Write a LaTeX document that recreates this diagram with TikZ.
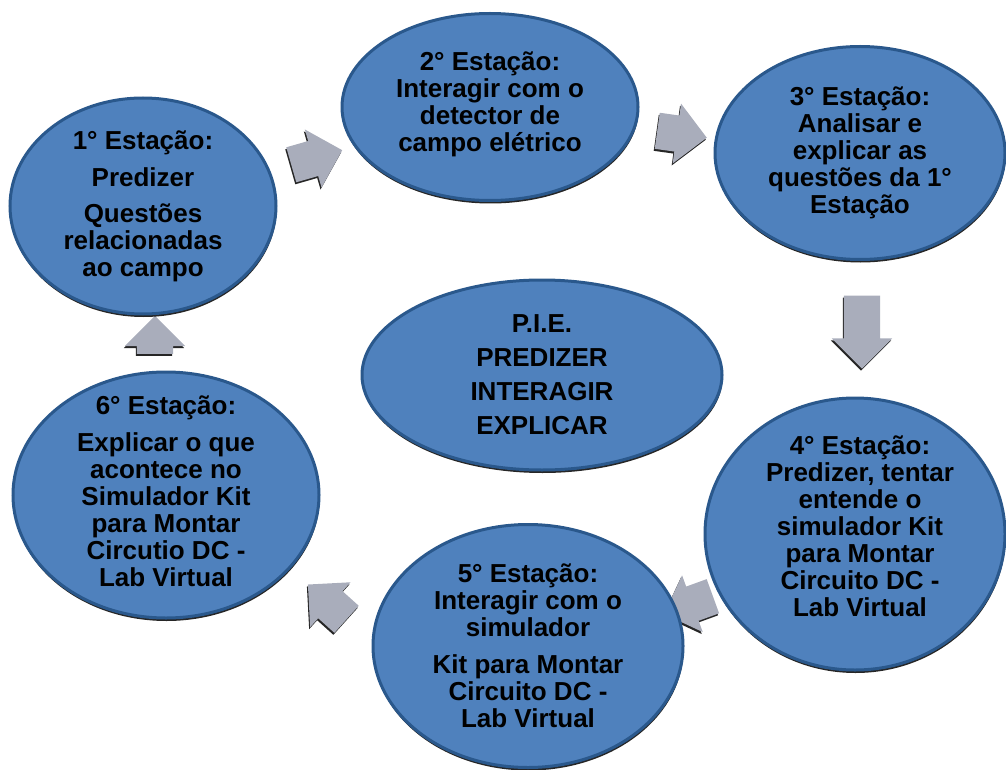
\documentclass[tikz,border=0pt]{standalone}
\usepackage{fontspec}
\setmainfont{Liberation Sans}
\usepackage{xcolor}
\usepackage{tikz}
\usetikzlibrary{shapes.geometric,shapes.arrows,shadows,positioning}
\definecolor{azul}{HTML}{4F81BD}
\definecolor{azulEscuro}{HTML}{2A588C}
\definecolor{cinza}{HTML}{A9ADBB}
\tikzset{
    estacao/.style={
        ellipse,
        draw=azulEscuro,
        line width=3pt,
        fill=azul,
        inner sep=0pt,
        drop shadow={shadow xshift=0.5pt, shadow yshift=-3pt, fill=black, opacity=0.85}
    },
    rotulo/.style={
        align=center,
        inner sep=0pt,
        font=\bfseries\fontsize{26}{27}\selectfont
    },
    seta/.style={
        single arrow,
        fill=cinza,
        inner xsep=0pt,
        inner ysep=18pt,
        minimum width=0pt,
        single arrow head extend=12pt,
        drop shadow={shadow xshift=-1pt, shadow yshift=-2pt, fill=black!85, opacity=1}
    }
}

\begin{document}
\begin{tikzpicture}[x=1pt, y=-1pt]
    \useasboundingbox (0,0) rectangle (1006,770);

    % setas (ficam por baixo das estações)
    \node[seta, minimum height=53pt, rotate=16] (s12) at (308,160) {};
    \node[seta, minimum height=50pt, rotate=-8] (s23) at (673,133) {};
    \node[seta, minimum height=73pt, rotate=-90] (s34) at (862,323) {};
    \node[seta, minimum height=52pt, rotate=200] (s45) at (697,602) {};
    \node[seta, minimum height=52pt, rotate=138] (s56) at (334,608) {};
    \node[seta, minimum height=38pt, rotate=90] (s61) at (155,344) {};

    % estações
    \node[estacao, minimum width=266pt, minimum height=216pt] (e1) at (143,206) {};
    \node[estacao, minimum width=296pt, minimum height=187pt] (e2) at (490,107) {};
    \node[estacao, minimum width=290pt, minimum height=213pt] (e3) at (860,153) {};
    \node[estacao, minimum width=300pt, minimum height=272pt] (e4) at (855,534) {};
    \node[estacao, minimum width=310pt, minimum height=243pt] (e5) at (528,646) {};
    \node[estacao, minimum width=306pt, minimum height=246pt] (e6) at (166,495) {};
    \node[estacao, minimum width=360pt, minimum height=190pt] (pie) at (542,375) {};

    \node[rotulo] (t1) at (e1) {1° Estação:\\[10pt] Predizer\\[9pt] Questões\\ relacionadas\\ ao campo};
    \node[rotulo] (t2) at ([yshift=3pt]e2) {2° Estação:\\ Interagir com o\\ detector de\\ campo elétrico};
    \node[rotulo] (t3) at (e3) {3° Estação:\\ Analisar e\\ explicar as\\ questões da 1°\\ Estação};
    \node[rotulo] (t4) at (860,526) {4° Estação:\\ Predizer, tentar\\ entende o\\ simulador Kit\\ para Montar\\ Circuito DC -\\ Lab Virtual};
    \node[rotulo] (t5) at (e5) {5° Estação:\\ Interagir com o\\ simulador\\[10pt] Kit para Montar\\ Circuito DC -\\ Lab Virtual};
    \node[rotulo] (t6) at ([yshift=4pt]e6) {6° Estação:\\[10pt] Explicar o que\\ acontece no\\ Simulador Kit\\ para Montar\\ Circutio DC -\\ Lab Virtual};
    \node[rotulo] (tpie) at (pie) {P.I.E.\\[7pt] PREDIZER\\[7pt] INTERAGIR\\[7pt] EXPLICAR};
\end{tikzpicture}
\end{document}
